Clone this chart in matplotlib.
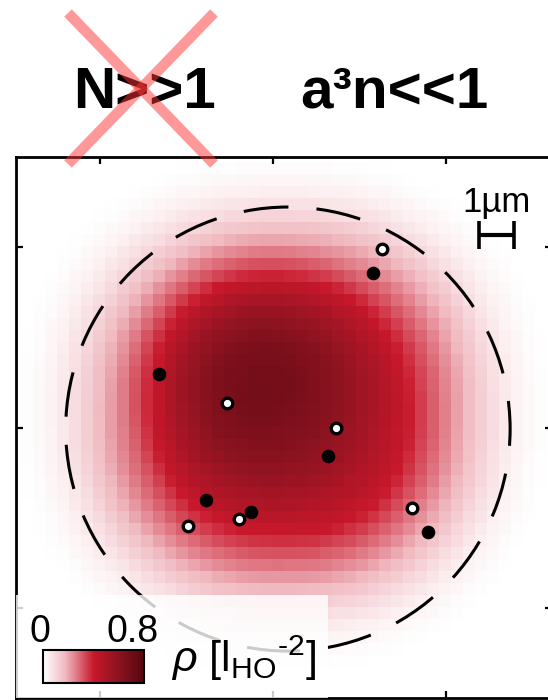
import numpy as np
import matplotlib
matplotlib.use("Agg")
import matplotlib.pyplot as plt
from matplotlib.colors import LinearSegmentedColormap
from matplotlib.patches import Ellipse, Rectangle
from matplotlib.lines import Line2D

plt.rcParams['font.family'] = ['Liberation Sans', 'DejaVu Sans']
plt.rcParams['mathtext.fontset'] = 'custom'
plt.rcParams['mathtext.rm'] = 'Liberation Sans'
plt.rcParams['mathtext.it'] = 'Liberation Sans:italic'
plt.rcParams['mathtext.bf'] = 'Liberation Sans:bold'

# ---- data (positions in µm) ----
# atoms of the two spin species
black_x = [-3.29, 1.59, -1.94, -0.64, 4.48, 2.89]
black_y = [1.50, -0.78, -1.99, -2.33, -2.88, 4.29]
white_x = [-1.33, 1.82, -0.98, -2.46, 4.02, 3.15]
white_y = [0.69, 0.00, -2.52, -2.71, -2.22, 4.96]

# averaged density: broad halo plus a denser core, as radial profiles
halo_center = (0.3, 0.45)
halo_r = [0.0, 1.0, 2.0, 3.0, 3.6, 4.2, 4.8, 5.4, 6.0, 6.6, 7.2, 7.8]
halo_rho = [0.54, 0.54, 0.52, 0.46, 0.40, 0.32, 0.24, 0.16, 0.09, 0.04, 0.012, 0.0]
core_center = (-0.45, 1.4)
core_r = [0.0, 1.0, 2.0, 3.0, 4.0]
core_rho = [0.15, 0.14, 0.09, 0.035, 0.0]

# trap boundary (dashed)
trap_center = (0.43, -0.03)
trap_radius = (6.42, 6.15)

ticks = [-5, 0, 5]
rho_max = 0.8
scale_bar_um = 1.0

# ---- figure ----
W, H = 548, 700
fig = plt.figure(figsize=(W / 100, H / 100), dpi=100)

def fx(px):
    return px / W

def fy(py):
    return (H - py) / H

ax = fig.add_axes([fx(15.5), fy(698), fx(552) - fx(15.5), fy(156.5) - fy(698)])
ax.set_xlim(-7.44, 8.06)
ax.set_ylim(-7.48, 7.52)

cmap = LinearSegmentedColormap.from_list(
    "rho",
    [(0.0, "#ffffff"), (0.22, "#efb9c0"), (0.5, "#c8182b"),
     (0.75, "#8c1320"), (1.0, "#560710")])

# pixelated density map
xe = np.arange(-7.62, 8.3, 0.345)
ye = np.arange(-7.62, 7.8, 0.333)
xc = 0.5 * (xe[:-1] + xe[1:])
yc = 0.5 * (ye[:-1] + ye[1:])
X, Y = np.meshgrid(xc, yc)
p, asp = 2.3, 0.93
r_halo = (np.abs(X - halo_center[0]) ** p
          + np.abs((Y - halo_center[1]) / asp) ** p) ** (1 / p)
r_core = np.hypot(X - core_center[0], Y - core_center[1])
rho = (np.interp(r_halo, halo_r, halo_rho, right=0.0)
       + np.interp(r_core, core_r, core_rho, right=0.0))
mesh = ax.pcolormesh(xe, ye, rho, cmap=cmap, vmin=0, vmax=rho_max,
                     shading="flat", zorder=0, rasterized=True)

# dashed trap outline
lw = 2.2
ax.add_patch(Ellipse(trap_center, 2 * trap_radius[0], 2 * trap_radius[1],
                     fill=False, edgecolor="black", lw=lw,
                     linestyle=(10.8, (14.7, 9.2)), zorder=2))

# translucent panel behind the colour bar
ax.add_patch(Rectangle((0, 0), (328 - 15.5) / 536.5, (698 - 595) / 541.5,
                       transform=ax.transAxes, facecolor="white",
                       alpha=0.8, edgecolor="none", zorder=3))

# atoms
ax.plot(black_x, black_y, "o", color="black", ms=9.8, mew=0, zorder=5)
ax.plot(white_x, white_y, "o", mfc="white", mec="black", ms=7.6, mew=2.4,
        zorder=5)

# scale bar
sb_x, sb_y = 6.46, 5.35
ax.errorbar(sb_x, sb_y, xerr=scale_bar_um / 2, fmt="none", ecolor="black",
            elinewidth=3.0, capsize=10, capthick=2.6, zorder=6)
ax.text(sb_x, 5.98, "1µm", ha="center", va="baseline", fontsize=25,
        zorder=6)

ax.set_xticks(ticks)
ax.set_yticks(ticks)
ax.tick_params(direction="in", length=5, width=1.6, top=True, right=True,
               labelleft=False, labelbottom=False)
for s in ax.spines.values():
    s.set_linewidth(2.0)

# colour bar
cax = fig.add_axes([fx(43), fy(683), fx(144) - fx(43), fy(650) - fy(683)])
cb = fig.colorbar(mesh, cax=cax, orientation="horizontal")
cb.set_ticks([])
cb.outline.set_linewidth(1.5)
fig.text(fx(40), fy(642), "0", ha="center", va="baseline", fontsize=27)
fig.text(fx(133), fy(642), "0.8", ha="center", va="baseline", fontsize=27)
fig.text(fx(171), fy(672), r"$\rho$ [l$_{\mathrm{HO}}$$^{\text{-2}}$]",
         ha="left", va="baseline", fontsize=31)

# headline conditions
fig.text(fx(144.5), fy(108), "N>>1", ha="center", va="baseline",
         fontsize=42, fontweight="bold")
fig.text(fx(394.5), fy(108), "a³n<<1", ha="center", va="baseline",
         fontsize=42, fontweight="bold")

# crossed-out condition
for (x0, y0, x1, y1) in [(68, 13, 214, 164), (214, 13, 68, 164)]:
    fig.add_artist(Line2D([fx(x0), fx(x1)], [fy(y0), fy(y1)],
                          transform=fig.transFigure, color="#ff3535",
                          alpha=0.5, lw=7.6, solid_capstyle="butt",
                          zorder=20))

fig.savefig("out.png", dpi=100)
